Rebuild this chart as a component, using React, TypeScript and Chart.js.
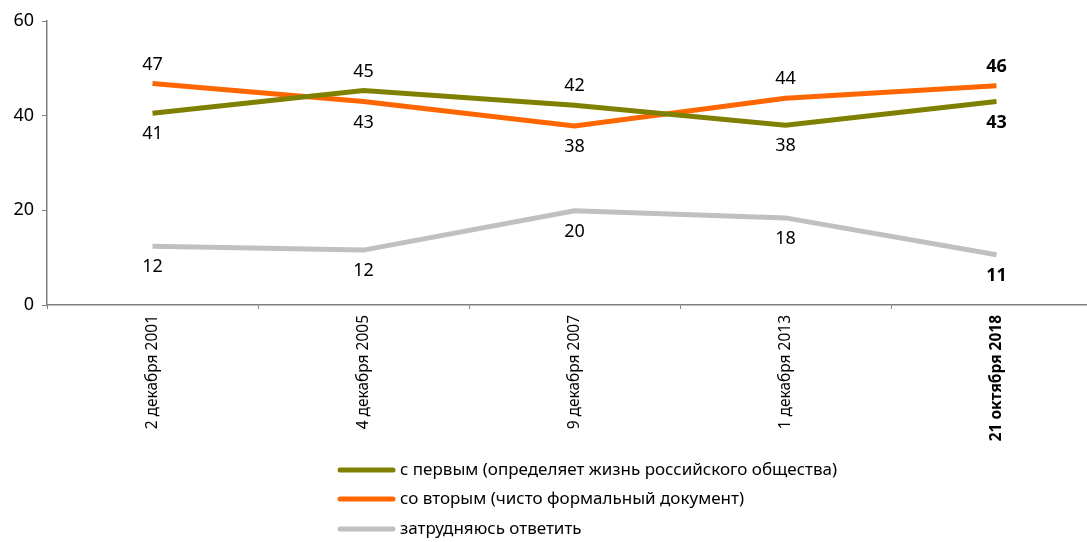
import React, { useEffect, useRef } from "react";
import { Chart, registerables } from "chart.js";

Chart.register(...registerables);

const categories = ["2 декабря 2001", "4 декабря 2005", "9 декабря 2007", "1 декабря 2013", "21 октября 2018"];
const seriesNames = [
  "с первым (определяет жизнь российского общества)",
  "со вторым (чисто формальный документ)",
  "затрудняюсь ответить",
];
const firstValues = [40.5, 45.3, 42.2, 38.0, 43.0];
const secondValues = [46.8, 43.0, 37.8, 43.7, 46.3];
const unsureValues = [12.4, 11.6, 19.9, 18.4, 10.6];
const seriesColors = ["#808000", "#ff6600", "#c0c0c0"];
const yTickValues = [0, 20, 40, 60];

const FONT = '"Noto Sans", sans-serif';

const valueLabelsPlugin = {
  id: "valueLabels",
  afterDatasetsDraw(chart: any) {
    const ctx = chart.ctx;
    const ds = chart.data.datasets;
    ctx.save();
    ctx.fillStyle = "#000";
    ctx.textAlign = "center";
    ctx.textBaseline = "middle";
    ds.forEach((d: any, di: number) => {
      const meta = chart.getDatasetMeta(di);
      d.data.forEach((v: number, i: number) => {
        const pt = meta.data[i];
        const maxAtI = Math.max(...ds.map((o: any) => o.data[i]));
        const above = v === maxAtI;
        const last = i === d.data.length - 1;
        ctx.font = `${last ? "bold " : ""}18px ${FONT}`;
        ctx.fillText(String(Math.round(v)), pt.x, pt.y + (above ? -19 : 21));
      });
    });
    ctx.restore();
  },
};

const bottomLegendPlugin = {
  id: "bottomLegend",
  afterDraw(chart: any) {
    const ctx = chart.ctx;
    const ds = chart.data.datasets;
    ctx.save();
    const x0 = 338;
    const rowY = [470, 499, 529];
    ds.forEach((d: any, i: number) => {
      const y = rowY[i];
      ctx.strokeStyle = d.borderColor;
      ctx.lineWidth = 5;
      ctx.lineCap = "round";
      ctx.beginPath();
      ctx.moveTo(x0 + 2, y);
      ctx.lineTo(x0 + 55, y);
      ctx.stroke();
      ctx.fillStyle = "#000";
      ctx.font = `17px ${FONT}`;
      ctx.textAlign = "left";
      ctx.textBaseline = "middle";
      ctx.fillText(d.label, x0 + 62, y);
    });
    ctx.restore();
  },
};

export default function App() {
  const ref = useRef<HTMLCanvasElement | null>(null);
  useEffect(() => {
    if (!ref.current) return;
    const values = [firstValues, secondValues, unsureValues];
    const chart = new Chart(ref.current, {
      type: "line",
      data: {
        labels: categories,
        datasets: values.map((v, i) => ({
          label: seriesNames[i],
          data: v,
          borderColor: seriesColors[i],
          backgroundColor: seriesColors[i],
          borderWidth: 5,
          pointRadius: 0,
          tension: 0,
          fill: false,
        })),
      },
      options: {
        responsive: false,
        animation: false,
        layout: { padding: { top: 21, left: 0, right: 8, bottom: 0 } },
        plugins: {
          legend: { display: false },
          tooltip: { enabled: false },
        },
        scales: {
          x: {
            type: "category",
            offset: true,
            grid: { offset: true, drawOnChartArea: false, tickLength: 4, color: "#808080" },
            border: { color: "#808080", width: 1.5 },
            ticks: {
              minRotation: 90,
              maxRotation: 90,
              padding: 6,
              color: "#000",
              font: (c: any) => ({ family: FONT, size: 15.5, weight: c.index === categories.length - 1 ? "bold" : "normal" }),
            },
            afterFit: (s: any) => {
              s.height = 237;
            },
          },
          y: {
            min: 0,
            max: 60,
            afterBuildTicks: (s: any) => {
              s.ticks = yTickValues.map((v) => ({ value: v }));
            },
            grid: { drawOnChartArea: false, tickLength: 5, color: "#808080" },
            border: { color: "#808080", width: 1.5 },
            ticks: { padding: 8, color: "#000", font: { family: FONT, size: 18 } },
            afterFit: (s: any) => {
              s.width = 47;
            },
          },
        },
      },
      plugins: [valueLabelsPlugin, bottomLegendPlugin],
    });
    return () => chart.destroy();
  }, []);
  return (
    <div style={{ position: "absolute", left: 0, top: 0, width: 1087, height: 542, overflow: "hidden", background: "#fff" }}>
      <canvas ref={ref} width={1110} height={542} />
    </div>
  );
}
